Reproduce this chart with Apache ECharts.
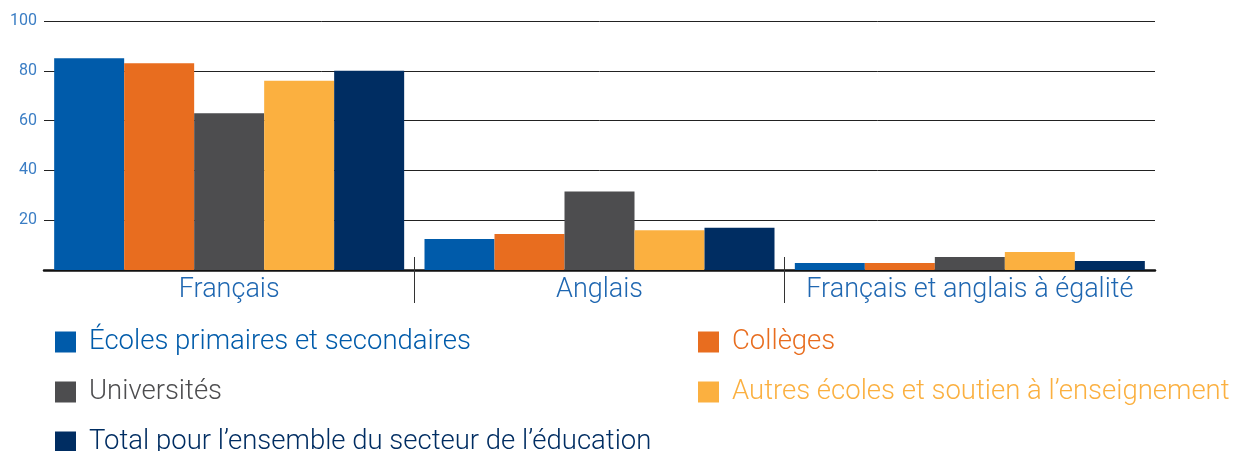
<!DOCTYPE html>
<html>
<head>
<meta charset="utf-8">
<script src="https://cdn.jsdelivr.net/npm/echarts@6/dist/echarts.min.js"></script>
<style>
  html, body { margin: 0; padding: 0; background: #ffffff; }
  #chart { width: 1251px; height: 451px; }
</style>
</head>
<body>
<div id="chart"></div>
<script>
// catégories et valeurs (%)
const categories = ['Français', 'Anglais', 'Français et anglais à égalité']
const seriesNames = [
  'Écoles primaires et secondaires',
  'Collèges',
  'Universités',
  'Autres écoles et soutien à l’enseignement',
  'Total pour l’ensemble du secteur de l’éducation'
]
const ecolesPrimaires = [85, 12.5, 2.8]
const colleges = [83, 14.5, 2.8]
const universites = [63, 31.5, 5.2]
const autresEcoles = [76, 16, 7.2]
const totalEducation = [80, 17, 3.6]
const colors = ['#005BAA', '#E86D1F', '#4D4D4F', '#FBB040', '#002D62']
const separators = [1, 2]

const values = [ecolesPrimaires, colleges, universites, autresEcoles, totalEducation]
const font = 'Roboto, "Noto Sans", sans-serif'

const legendItem = (i) => ({
  name: seriesNames[i],
  textStyle: { color: colors[i] }
})
const legendBase = {
  orient: 'vertical',
  icon: 'rect',
  padding: 0,
  height: 140,
  itemWidth: 21,
  itemHeight: 21,
  itemGap: 22,
  textStyle: {
    fontFamily: font,
    fontWeight: 300,
    fontSize: 27.5,
    lineHeight: 25,
    padding: [0, 0, 0, 8]
  }
}

const option = {
  animation: false,
  backgroundColor: '#ffffff',
  color: colors,
  grid: { left: 44, right: 96, top: 21, bottom: 181 },
  legend: [
    Object.assign({}, legendBase, { left: 55, top: 328, data: [0, 2, 4].map(legendItem) }),
    Object.assign({}, legendBase, { left: 698, top: 328, data: [1, 3].map(legendItem) })
  ],
  xAxis: [
    {
      type: 'category',
      data: categories,
      axisLine: { lineStyle: { color: '#111', width: 2.5 } },
      axisTick: { show: false },
      axisLabel: {
        interval: 0,
        color: '#1F67B1',
        fontFamily: font,
        fontWeight: 300,
        fontSize: 27,
        margin: 7
      }
    },
    {
      // traits verticaux entre les catégories
      type: 'value',
      min: 0,
      max: 3,
      position: 'bottom',
      offset: -13,
      axisLine: { show: false },
      axisLabel: { show: false },
      splitLine: { show: false },
      axisTick: {
        show: true,
        length: 46,
        customValues: separators,
        lineStyle: { color: '#333', width: 1 }
      }
    }
  ],
  yAxis: {
    type: 'value',
    min: 0,
    max: 100,
    interval: 20,
    axisLine: { show: false },
    axisTick: { show: false },
    splitLine: { lineStyle: { color: '#222', width: 1 } },
    axisLabel: {
      showMinLabel: false,
      color: '#3A7DC4',
      fontFamily: font,
      fontSize: 16,
      margin: 7
    }
  },
  series: values.map((v, i) => ({
    name: seriesNames[i],
    type: 'bar',
    xAxisIndex: 0,
    barWidth: 70,
    barGap: '0%',
    itemStyle: { color: colors[i] },
    data: v
  }))
}

var myChart = echarts.init(document.getElementById('chart'))
myChart.setOption(option)
</script>
</body>
</html>
